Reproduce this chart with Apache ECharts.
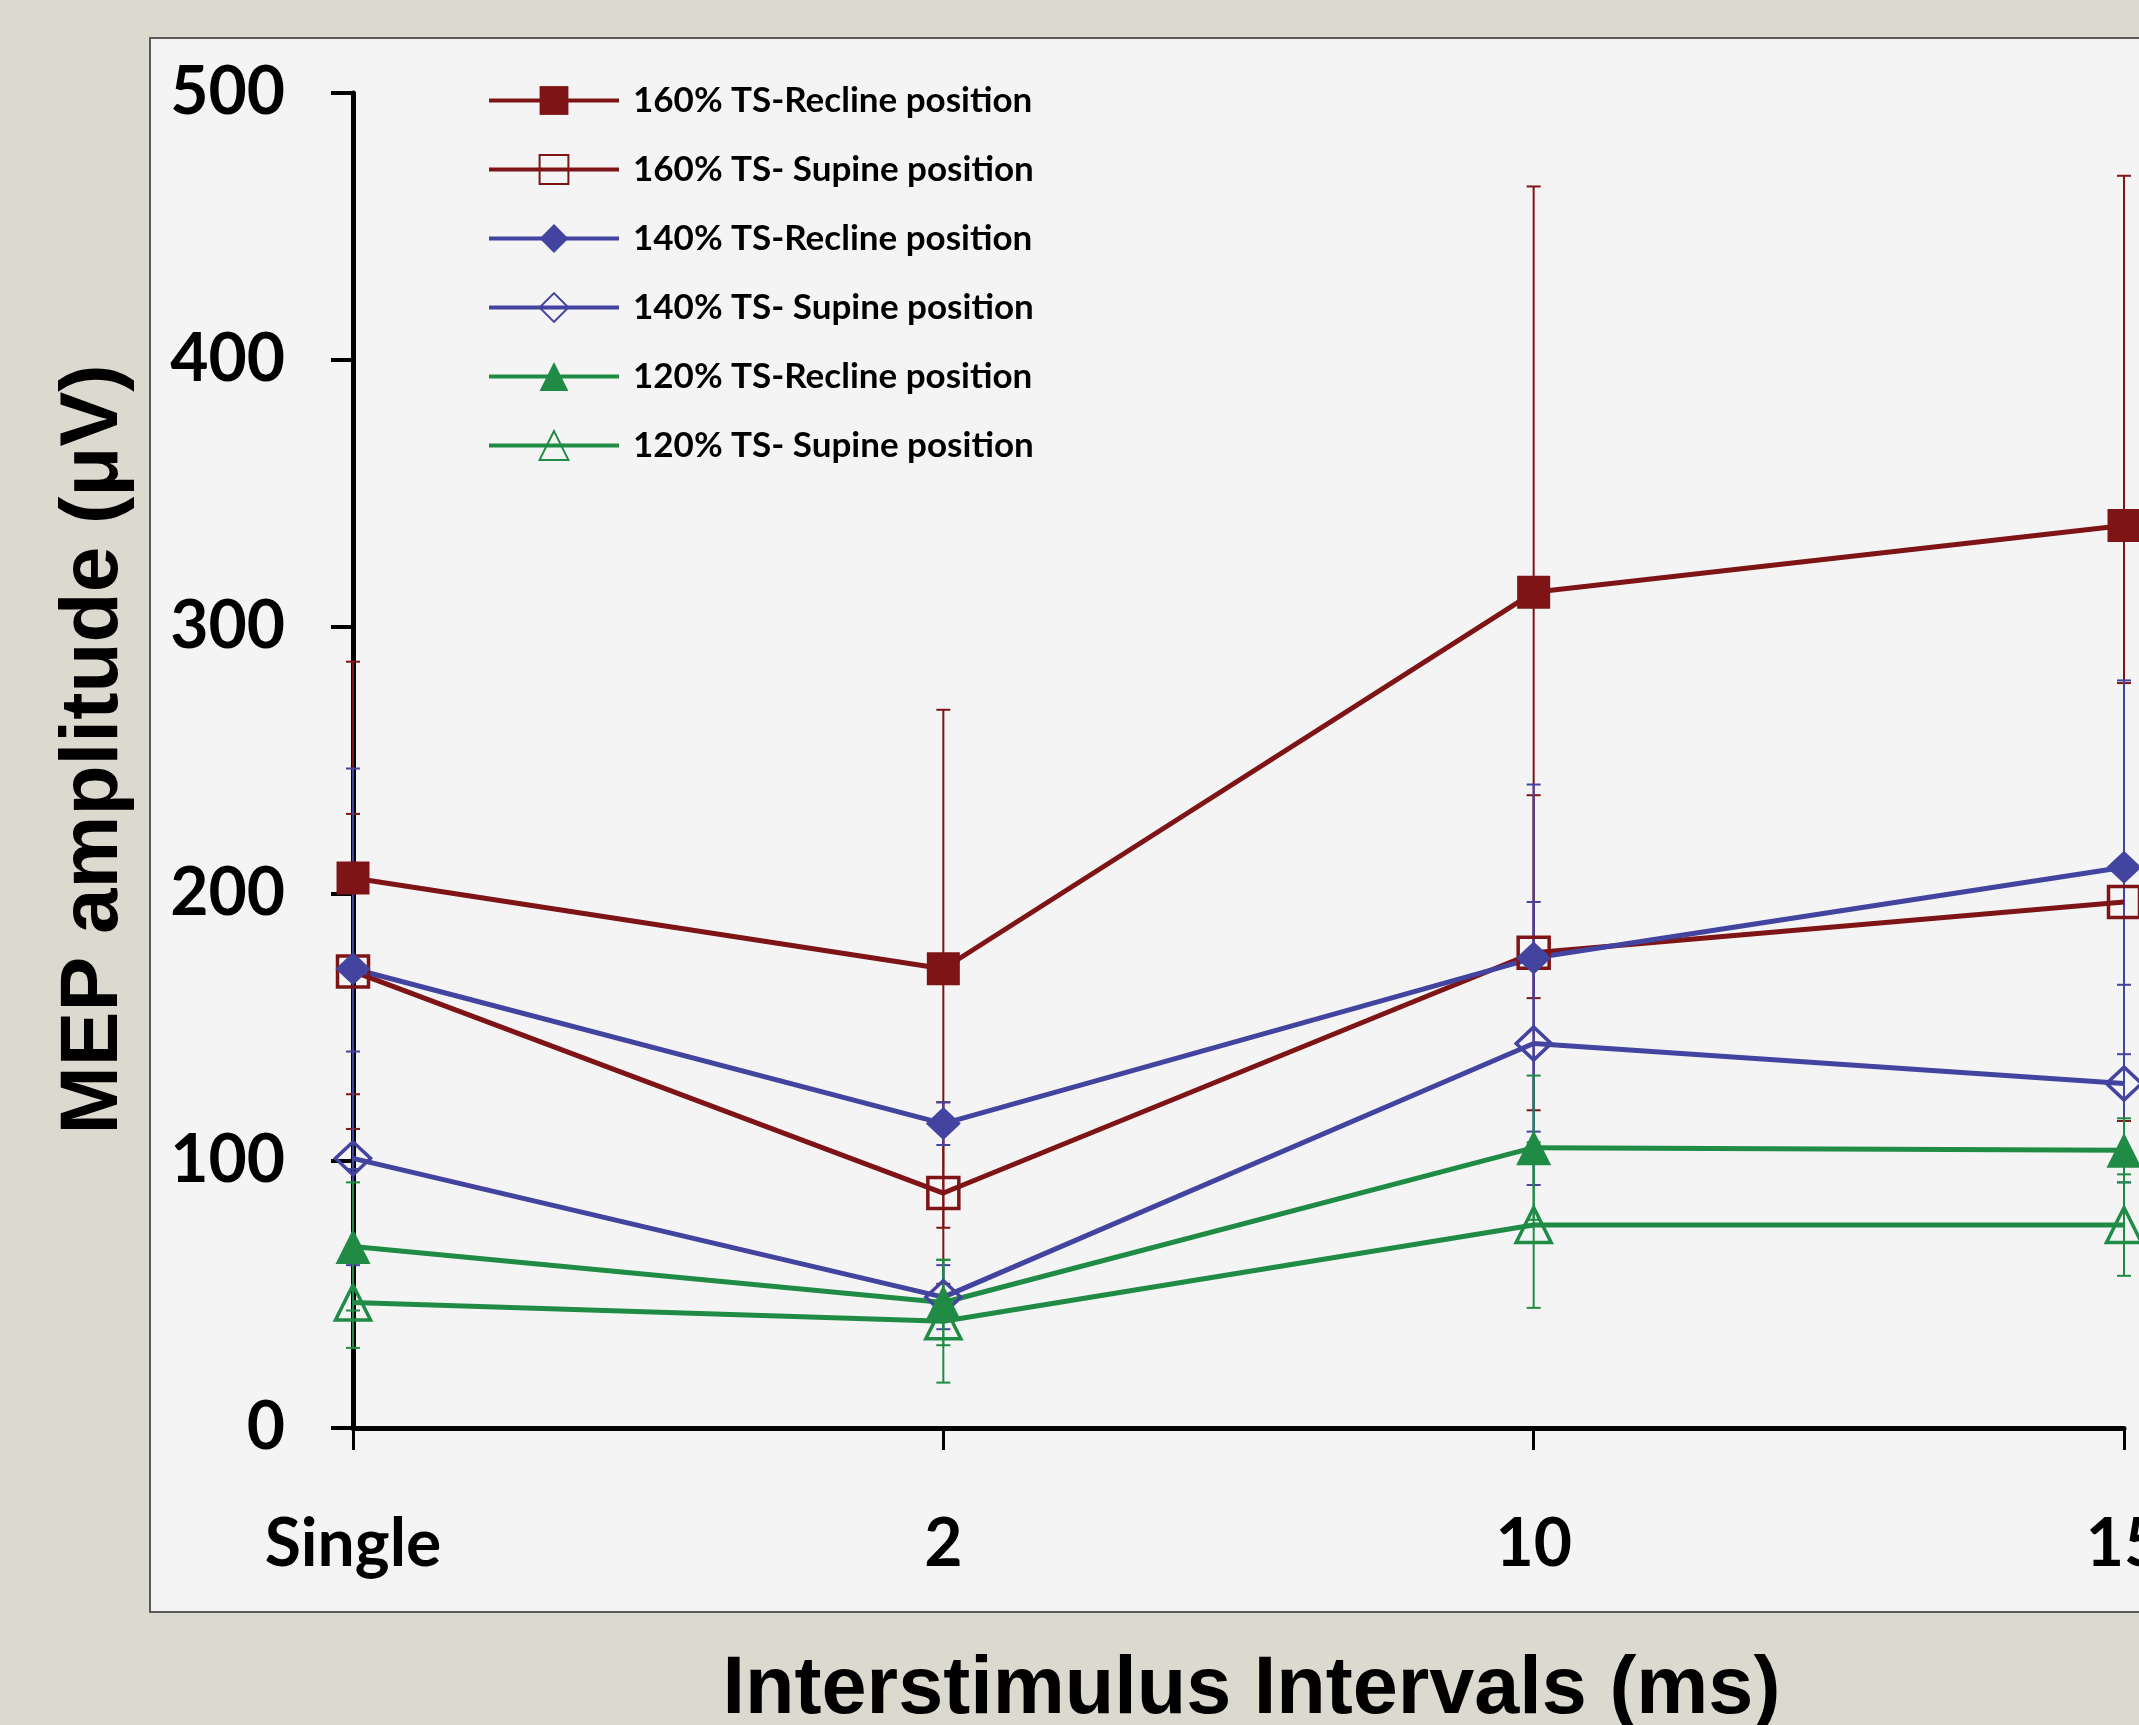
<!DOCTYPE html>
<html>
<head>
<meta charset="utf-8">
<script src="https://cdn.jsdelivr.net/npm/echarts@6/dist/echarts.min.js"></script>
<style>
  html, body { margin: 0; padding: 0; background: #DCD9CE; }
  #chart { width: 2139px; height: 1725px; }
</style>
</head>
<body>
<div id="chart"></div>
<script>
// categories on the x axis
var intervals = ['Single', '2', '10', '15'];
var yTicks = [0, 100, 200, 300, 400, 500];

// mean MEP amplitudes (µV)
var recline160 = [206, 172, 313, 338];
var supine160 = [171, 88, 178, 197];
var recline140 = [172, 114, 176, 210];
var supine140 = [101, 49, 144, 129];
var recline120 = [68, 47, 105, 104];
var supine120 = [47, 40, 76, 76];

// error bar half-lengths
var recline160Err = [81, 97, 152, 131];
var supine160Err = [59, 34, 59, 82];
var recline140Err = [75, 8, 65, 70];
var supine140Err = [40, 12, 53, 37];
var recline120Err = [24, 16, 27, 12];
var supine120Err = [17, 23, 31, 19];

var RED = '#7E1416', BLUE = '#4343A0', GREEN = '#1F8B45';
var labelFont = 'Lato';
var titleFont = '"Liberation Sans", Arial, sans-serif';

var myChart = echarts.init(document.getElementById('chart'));

// one line series for the means
function lineSeries(name, data, color, symbol, filled, size) {
  return {
    name: name,
    type: 'line',
    data: data,
    symbol: symbol,
    symbolSize: size,
    showAllSymbol: true,
    z: 3,
    lineStyle: { color: color, width: 5 },
    itemStyle: filled
      ? { color: color, borderWidth: 0 }
      : { color: 'rgba(0,0,0,0)', borderColor: color, borderWidth: 3.5 }
  };
}

// error bars drawn through the axis scales
function errSeries(name, mean, err, color) {
  var d = mean.map(function (m, i) { return [i, m - err[i], m + err[i]]; });
  return {
    name: name,
    type: 'custom',
    z: 2,
    data: d,
    encode: { x: 0, y: [1, 2] },
    renderItem: function (params, api) {
      var lo = api.coord([api.value(0), api.value(1)]);
      var hi = api.coord([api.value(0), api.value(2)]);
      var cap = 7;
      var st = { stroke: color, lineWidth: 2 };
      return {
        type: 'group',
        children: [
          { type: 'line', shape: { x1: hi[0], y1: hi[1], x2: lo[0], y2: lo[1] }, style: st },
          { type: 'line', shape: { x1: hi[0] - cap, y1: hi[1], x2: hi[0] + cap, y2: hi[1] }, style: st },
          { type: 'line', shape: { x1: lo[0] - cap, y1: lo[1], x2: lo[0] + cap, y2: lo[1] }, style: st }
        ]
      };
    }
  };
}

var names = [
  '160% TS-Recline position',
  '160% TS- Supine position',
  '140% TS-Recline position',
  '140% TS- Supine position',
  '120% TS-Recline position',
  '120% TS- Supine position'
];

var option = {
  backgroundColor: '#DCD9CE',
  animation: false,
  graphic: [{
    type: 'rect',
    z: -10,
    shape: { x: 150, y: 38, width: 2100, height: 1574 },
    style: { fill: '#F4F4F4', stroke: '#5A5A5A', lineWidth: 2 }
  }],
  grid: { left: 353, right: 15, top: 93, bottom: 297, outerBoundsMode: 'none', containLabel: false },
  legend: {
    data: names,
    orient: 'vertical',
    left: 482,
    top: 78,
    itemWidth: 130,
    itemHeight: 36,
    itemGap: 34,
    lineStyle: { width: 4 },
    textStyle: { fontFamily: labelFont, fontWeight: 'bold', fontSize: 35, color: '#000', padding: [0, 0, 0, 9] }
  },
  xAxis: {
    type: 'category',
    data: intervals,
    boundaryGap: false,
    name: 'Interstimulus Intervals (ms)',
    nameLocation: 'middle',
    nameGap: 222,
    nameTextStyle: { fontFamily: titleFont, fontWeight: 'bold', fontSize: 81, color: '#000', padding: [0, 0, 0, 26] },
    axisLine: { lineStyle: { color: '#000', width: 5 } },
    axisTick: { show: true, alignWithLabel: true, length: 22, lineStyle: { color: '#000', width: 3 } },
    axisLabel: { margin: 84, fontFamily: labelFont, fontWeight: 'bold', fontSize: 66, color: '#000', interval: 0 },
    splitLine: { show: false }
  },
  yAxis: {
    type: 'value',
    min: yTicks[0],
    max: yTicks[yTicks.length - 1],
    interval: 100,
    name: 'MEP amplitude (μV)',
    nameLocation: 'middle',
    nameGap: 218,
    nameTextStyle: { fontFamily: titleFont, fontWeight: 'bold', fontSize: 82, color: '#000', padding: [0, 0, 0, 22] },
    axisLine: { show: true, lineStyle: { color: '#000', width: 5 } },
    axisTick: { show: true, length: 22, lineStyle: { color: '#000', width: 4 } },
    axisLabel: { margin: 68, fontFamily: labelFont, fontWeight: 'bold', fontSize: 66, color: '#000' },
    splitLine: { show: false }
  },
  series: [
    errSeries('e160r', recline160, recline160Err, RED),
    errSeries('e160s', supine160, supine160Err, RED),
    errSeries('e140r', recline140, recline140Err, BLUE),
    errSeries('e140s', supine140, supine140Err, BLUE),
    errSeries('e120r', recline120, recline120Err, GREEN),
    errSeries('e120s', supine120, supine120Err, GREEN),
    lineSeries(names[0], recline160, RED, 'rect', true, 33),
    lineSeries(names[1], supine160, RED, 'rect', false, 31),
    lineSeries(names[2], recline140, BLUE, 'diamond', true, [35, 33]),
    lineSeries(names[3], supine140, BLUE, 'diamond', false, [35, 33]),
    lineSeries(names[4], recline120, GREEN, 'triangle', true, 35),
    lineSeries(names[5], supine120, GREEN, 'triangle', false, 35)
  ]
};

myChart.setOption(option);
</script>
</body>
</html>
